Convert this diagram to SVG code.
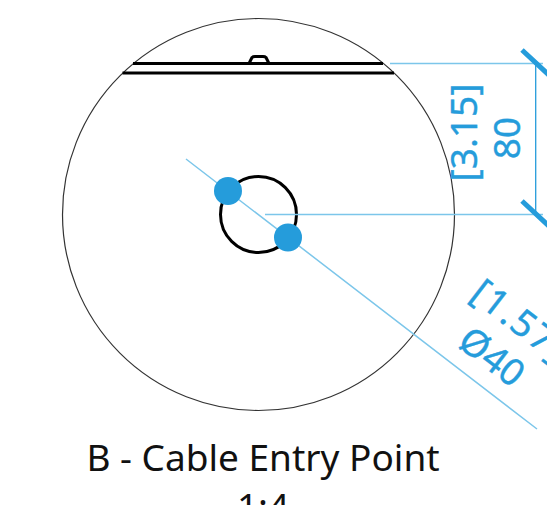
<svg xmlns="http://www.w3.org/2000/svg" width="547" height="505" viewBox="0 0 547 505">
<style>
.thin{fill:none;stroke:#333;stroke-width:1.2}
.thick{fill:none;stroke:#000;stroke-width:3}
.ext{fill:none;stroke:#7cc6ea;stroke-width:1.5}
.dim{fill:none;stroke:#259cdb;stroke-width:1.3}
.tick{fill:none;stroke:#259cdb;stroke-width:5}
.dot{fill:#259cdb}
.bl{font-family:"Noto Sans","Open Sans",sans-serif;font-size:37px;fill:#259cdb;stroke:#259cdb;stroke-width:.4;text-anchor:middle}
.tt{font-family:"Noto Sans","Open Sans",sans-serif;font-size:37px;fill:#111;text-anchor:middle}
</style>
<g id="part">
<circle class="thin" cx="258.5" cy="214.5" r="196"/>
<path class="thick" d="M133 63.5H383M122.500 73H394"/>
<path class="thick" d="M249 63.500L252 57.500Q253 56.500 255 56.500H263Q265 56.500 266 57.500L269 63.500"/>
<circle class="thick" cx="258.500" cy="214.500" r="38"/>
</g>
<g id="connectors">
<path class="ext" d="M390 63.500H543M265 214.500H543M186 159L537 429"/>
<path class="dim" d="M535.700 63.500V214.500"/>
<path class="tick" d="M522 50L550 76M522 201L550 227"/>
</g>
<g id="dots">
<circle class="dot" cx="228" cy="191" r="14"/>
<circle class="dot" cx="288" cy="237.500" r="14"/>
</g>
<g id="dim-labels">
<text class="bl" transform="translate(477 132.500) rotate(-90)">[3.15]</text>
<text class="bl" transform="translate(520 138) rotate(-90)">80</text>
<text class="bl" letter-spacing="2" transform="translate(512 331) rotate(37.600)">[1.57]</text>
<text class="bl" transform="translate(484 367) rotate(37.600)">Ø40</text>
</g>
<g id="title">
<text class="tt" x="263" y="471">B - Cable Entry Point</text>
<text class="tt" x="263" y="520">1:4</text>
</g>
</svg>
